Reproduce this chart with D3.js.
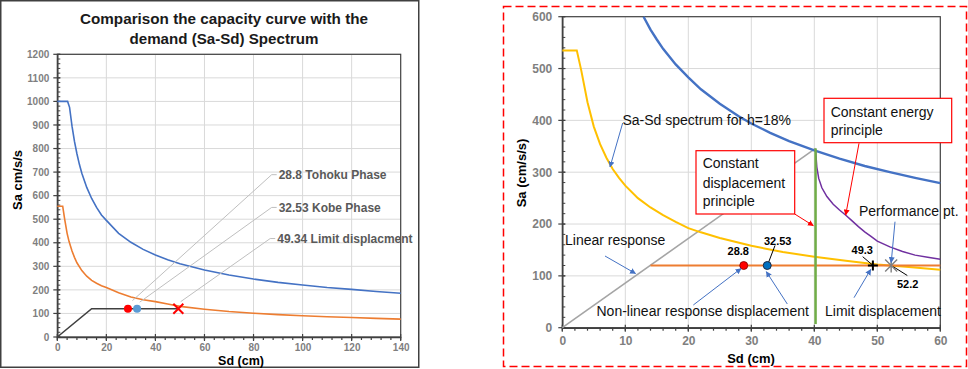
<!DOCTYPE html>
<html><head><meta charset="utf-8">
<script src="https://cdn.jsdelivr.net/npm/d3@7/dist/d3.min.js"></script>
<style>
html,body{margin:0;padding:0;background:#fff;}
svg{display:block;font-family:"Liberation Sans",Arial,sans-serif;}
</style></head>
<body><svg id="c" width="968" height="369"></svg>
<script>
// ---------- LEFT CHART DATA ----------
const leftTitle = ["Comparison the capacity curve with the", "demand (Sa-Sd) Spectrum"];
const leftXTicks = [0, 20, 40, 60, 80, 100, 120, 140];
const leftYTicks = [0, 100, 200, 300, 400, 500, 600, 700, 800, 900, 1000, 1100, 1200];
const leftBlueSd = [0, 4.2, 5, 6, 7, 8, 9, 10, 12, 14, 16, 18, 20, 25, 30, 35, 40, 45, 50, 60, 70, 80, 90, 100, 110, 120, 130, 140];
const leftBlueSa = [1000, 1000, 975, 895, 830, 778, 733, 695, 635, 588, 550, 518, 495, 440, 402, 372, 348, 328, 311, 284, 263, 246, 232, 221, 210, 202, 193, 186];
const leftOrangeSd = [0, 2.2, 3, 4, 4.8, 6, 7, 8, 10, 12, 14, 16, 18, 20, 25, 30, 35, 40, 45, 50, 60, 70, 80, 90, 100, 110, 120, 130, 140];
const leftOrangeSa = [555, 555, 500, 440, 405, 365, 338, 315, 282, 258, 240, 228, 218, 210, 188, 170, 158, 150, 140, 130, 118, 108, 101, 95, 90, 86, 83, 79, 76];
const leftCapSd = [0, 14, 49.34];
const leftCapSa = [0, 120, 120];
const leftPtSd = [28.8, 32.53, 49.34];
const leftPtSa = [120, 120, 120];
const leftPtLabels = ["28.8 Tohoku Phase", "32.53 Kobe Phase", "49.34 Limit displacment"];

// ---------- RIGHT CHART DATA ----------
const rightXTicks = [0, 10, 20, 30, 40, 50, 60];
const rightYTicks = [0, 100, 200, 300, 400, 500, 600];
const rightBlueSd = [12.9, 14, 15, 16, 18, 20, 22, 25, 28, 30, 33, 36, 40, 44, 48, 52, 56, 60];
const rightBlueSa = [600, 575, 556, 538, 508, 483, 460, 432, 408, 394, 376, 360, 342, 326, 312, 300, 289, 279];
const rightYellowSd = [0, 2.3, 3, 4, 5, 6, 7, 8, 9, 10, 12, 14, 16, 18, 20, 22, 25, 30, 35, 40, 45, 50, 55, 60];
const rightYellowSa = [535, 535, 497, 435, 388, 354, 328, 306, 289, 274, 250, 232, 217, 204, 192, 184, 173, 158, 146, 137, 129, 122, 117, 112];
const rightCapSd = [14, 60];
const rightCapSa = [120, 120];
const rightLinearSd = [0, 40.2];
const rightLinearSa = [0, 346];
const rightGreenSd = [40.2, 40.2];
const rightGreenSa = [7, 346];
const rightPurpleSd = [40.2, 40.4, 40.7, 41.2, 42, 43, 44, 45, 46, 47, 48, 49, 50, 52, 54, 56, 58, 60];
const rightPurpleSa = [343, 310, 288, 270, 253, 238, 227, 217, 206, 195, 185, 176, 167, 156, 147, 140, 136, 132];
const rightPtSd = [28.8, 32.53, 49.3, 52.2];
const rightPtSa = [120, 120, 120, 120];
const rightPtLabels = ["28.8", "32.53", "49.3", "52.2"];

const svg = d3.select("#c");
const zip = (a, b) => a.map((v, i) => [v, b[i]]);

// markers
const defs = svg.append("defs");
function arrowMarker(id, color, size) {
  defs.append("marker").attr("id", id).attr("viewBox", "0 0 10 10").attr("refX", 9).attr("refY", 5)
    .attr("markerWidth", size).attr("markerHeight", size).attr("orient", "auto")
    .append("path").attr("d", "M0,0 L10,5 L0,10 z").attr("fill", color);
}
arrowMarker("ab", "#4472c4", 6);
arrowMarker("ar", "#ff0000", 6);

// ====================== LEFT CHART ======================
svg.append("rect").attr("x", 0.75).attr("y", 0.75).attr("width", 418).attr("height", 366.5)
  .attr("fill", "none").attr("stroke", "#404040").attr("stroke-width", 1.5);

const lx = d3.scaleLinear().domain([0, 140]).range([57.3, 400.7]);
const ly = d3.scaleLinear().domain([0, 1200]).range([337, 54.3]);
const L = svg.append("g");

L.append("text").attr("x", 224).attr("y", 23.5).attr("text-anchor", "middle")
  .attr("font-weight", "bold").attr("font-size", 15.5).attr("fill", "#1a1a1a")
  .attr("textLength", 288).attr("lengthAdjust", "spacingAndGlyphs").text(leftTitle[0]);
L.append("text").attr("x", 224).attr("y", 44).attr("text-anchor", "middle")
  .attr("font-weight", "bold").attr("font-size", 15.5).attr("fill", "#1a1a1a")
  .attr("textLength", 189).attr("lengthAdjust", "spacingAndGlyphs").text(leftTitle[1]);

// grid
L.append("g").selectAll("line").data(leftXTicks.slice(1, -1)).join("line")
  .attr("x1", d => lx(d)).attr("x2", d => lx(d)).attr("y1", ly(0)).attr("y2", ly(1200))
  .attr("stroke", "#d9d9d9").attr("stroke-width", 1);
L.append("g").selectAll("line").data(leftYTicks.slice(1)).join("line")
  .attr("x1", lx(0)).attr("x2", lx(140)).attr("y1", d => ly(d)).attr("y2", d => ly(d))
  .attr("stroke", "#d9d9d9").attr("stroke-width", 1);
// frame
L.append("rect").attr("x", lx(0)).attr("y", ly(1200)).attr("width", lx(140) - lx(0)).attr("height", ly(0) - ly(1200))
  .attr("fill", "none").attr("stroke", "#404040").attr("stroke-width", 1.2);

// axes
const lxAxis = L.append("g").attr("transform", `translate(0,${ly(0)})`)
  .call(d3.axisBottom(lx).tickValues(leftXTicks).tickFormat(d3.format("d")).tickSize(0).tickPadding(7));
const lyAxis = L.append("g").attr("transform", `translate(${lx(0)},0)`)
  .call(d3.axisLeft(ly).tickValues(leftYTicks).tickFormat(d3.format("d")).tickSize(0).tickPadding(8));
[lxAxis, lyAxis].forEach(a => {
  a.select(".domain").attr("stroke", "#404040").attr("stroke-width", 1.5);
  a.selectAll("text").attr("font-size", 10).attr("font-weight", "bold").attr("fill", "#7f7f7f")
    .attr("font-family", "Liberation Sans, Arial, sans-serif");
});
// major and minor ticks
L.append("g").selectAll("line").data(d3.range(0, 141, 4)).join("line")
  .attr("x1", d => lx(d)).attr("x2", d => lx(d)).attr("y1", ly(0)).attr("y2", ly(0) + 3)
  .attr("stroke", "#404040").attr("stroke-width", 1.2);
L.append("g").selectAll("line").data(leftXTicks).join("line")
  .attr("x1", d => lx(d)).attr("x2", d => lx(d)).attr("y1", ly(0) - 3).attr("y2", ly(0) + 4)
  .attr("stroke", "#404040").attr("stroke-width", 1.2);
L.append("g").selectAll("line").data(d3.range(0, 1201, 20)).join("line")
  .attr("x1", lx(0)).attr("x2", lx(0) + 3).attr("y1", d => ly(d)).attr("y2", d => ly(d))
  .attr("stroke", "#404040").attr("stroke-width", 1);
L.append("g").selectAll("line").data(leftYTicks).join("line")
  .attr("x1", lx(0) - 4).attr("x2", lx(0) + 3).attr("y1", d => ly(d)).attr("y2", d => ly(d))
  .attr("stroke", "#404040").attr("stroke-width", 1.2);

L.append("text").attr("transform", `translate(21.5,180) rotate(-90)`).attr("text-anchor", "middle")
  .attr("font-weight", "bold").attr("font-size", 13).attr("fill", "#000").text("Sa cm/s/s");
L.append("text").attr("x", 241).attr("y", 365).attr("text-anchor", "middle")
  .attr("font-weight", "bold").attr("font-size", 12.5).attr("fill", "#000").text("Sd (cm)");

const lline = d3.line().x(d => lx(d[0])).y(d => ly(d[1]));
L.append("path").attr("d", lline(zip(leftBlueSd, leftBlueSa))).attr("fill", "none").attr("stroke", "#4472c4").attr("stroke-width", 1.6);
L.append("path").attr("d", lline(zip(leftOrangeSd, leftOrangeSa))).attr("fill", "none").attr("stroke", "#ed7d31").attr("stroke-width", 1.6);
L.append("path").attr("d", lline(zip(leftCapSd, leftCapSa))).attr("fill", "none").attr("stroke", "#404040").attr("stroke-width", 1.6);

// leader lines
const leftLabelAnchor = [[87.4, 689], [87.4, 550], [86.8, 418]];
const leftLeaderEnd = [[30.6, 154], [33.6, 148], [50.3, 150]];
leftPtLabels.forEach((t, i) => {
  const ax = lx(leftLabelAnchor[i][0]), ay = ly(leftLabelAnchor[i][1]);
  L.append("polyline").attr("points", `${lx(leftLeaderEnd[i][0])},${ly(leftLeaderEnd[i][1])} ${ax},${ay} ${ax + 5},${ay}`)
    .attr("fill", "none").attr("stroke", "#bfbfbf").attr("stroke-width", 1);
  L.append("text").attr("x", ax + 7).attr("y", ay + 4.5).attr("font-size", 12).attr("font-weight", "bold")
    .attr("fill", "#595959").text(t);
});
// points
L.append("circle").attr("cx", lx(leftPtSd[0])).attr("cy", ly(leftPtSa[0])).attr("r", 4).attr("fill", "#ff0000");
L.append("circle").attr("cx", lx(leftPtSd[1])).attr("cy", ly(leftPtSa[1])).attr("r", 4).attr("fill", "#5b9bd5");
{
  const cx = lx(leftPtSd[2]), cy = ly(leftPtSa[2]), s = 5;
  L.append("path").attr("d", `M${cx - s},${cy - s}L${cx + s},${cy + s}M${cx - s},${cy + s}L${cx + s},${cy - s}`)
    .attr("stroke", "#ff0000").attr("stroke-width", 2).attr("fill", "none");
}

// ====================== RIGHT CHART ======================
svg.append("rect").attr("x", 503.5).attr("y", 6.5).attr("width", 463).attr("height", 360)
  .attr("fill", "none").attr("stroke", "#ff0000").attr("stroke-width", 1.5).attr("stroke-dasharray", "8,4");

const rx = d3.scaleLinear().domain([0, 60]).range([562.3, 940.3]);
const ry = d3.scaleLinear().domain([0, 600]).range([327.7, 16.7]);
const R = svg.append("g");

R.append("g").selectAll("line").data(rightXTicks.slice(1, -1)).join("line")
  .attr("x1", d => rx(d)).attr("x2", d => rx(d)).attr("y1", ry(0)).attr("y2", ry(600))
  .attr("stroke", "#d9d9d9").attr("stroke-width", 1);
R.append("g").selectAll("line").data(rightYTicks.slice(1, -1)).join("line")
  .attr("x1", rx(0)).attr("x2", rx(60)).attr("y1", d => ry(d)).attr("y2", d => ry(d))
  .attr("stroke", "#d9d9d9").attr("stroke-width", 1);
R.append("rect").attr("x", rx(0)).attr("y", ry(600)).attr("width", rx(60) - rx(0)).attr("height", ry(0) - ry(600))
  .attr("fill", "none").attr("stroke", "#404040").attr("stroke-width", 1.2);

const rxAxis = R.append("g").attr("transform", `translate(0,${ry(0)})`)
  .call(d3.axisBottom(rx).tickValues(rightXTicks).tickFormat(d3.format("d")).tickSize(0).tickPadding(9));
const ryAxis = R.append("g").attr("transform", `translate(${rx(0)},0)`)
  .call(d3.axisLeft(ry).tickValues(rightYTicks).tickFormat(d3.format("d")).tickSize(0).tickPadding(10));
[rxAxis, ryAxis].forEach(a => {
  a.select(".domain").attr("stroke", "#404040").attr("stroke-width", 1.5);
  a.selectAll("text").attr("font-size", 12).attr("font-weight", "bold").attr("fill", "#7f7f7f")
    .attr("font-family", "Liberation Sans, Arial, sans-serif");
});
R.append("g").selectAll("line").data(d3.range(0, 61, 2)).join("line")
  .attr("x1", d => rx(d)).attr("x2", d => rx(d)).attr("y1", ry(0)).attr("y2", ry(0) + 3)
  .attr("stroke", "#404040").attr("stroke-width", 1.2);
R.append("g").selectAll("line").data(rightXTicks).join("line")
  .attr("x1", d => rx(d)).attr("x2", d => rx(d)).attr("y1", ry(0) - 3).attr("y2", ry(0) + 4)
  .attr("stroke", "#404040").attr("stroke-width", 1.2);
R.append("g").selectAll("line").data(d3.range(0, 601, 20)).join("line")
  .attr("x1", rx(0)).attr("x2", rx(0) + 3).attr("y1", d => ry(d)).attr("y2", d => ry(d))
  .attr("stroke", "#404040").attr("stroke-width", 1);
R.append("g").selectAll("line").data(rightYTicks).join("line")
  .attr("x1", rx(0) - 4).attr("x2", rx(0) + 3).attr("y1", d => ry(d)).attr("y2", d => ry(d))
  .attr("stroke", "#404040").attr("stroke-width", 1.2);

R.append("text").attr("transform", `translate(526,173) rotate(-90)`).attr("text-anchor", "middle")
  .attr("font-weight", "bold").attr("font-size", 13).attr("fill", "#000").text("Sa (cm/s/s)");
R.append("text").attr("x", 751).attr("y", 363).attr("text-anchor", "middle")
  .attr("font-weight", "bold").attr("font-size", 13).attr("fill", "#000").text("Sd (cm)");

const rline = d3.line().x(d => rx(d[0])).y(d => ry(d[1]));
R.append("path").attr("d", rline(zip(rightLinearSd, rightLinearSa))).attr("fill", "none").attr("stroke", "#a5a5a5").attr("stroke-width", 1.6);
R.append("path").attr("d", rline(zip(rightYellowSd, rightYellowSa))).attr("fill", "none").attr("stroke", "#ffc000").attr("stroke-width", 2);
R.append("path").attr("d", rline(zip(rightBlueSd, rightBlueSa))).attr("fill", "none").attr("stroke", "#4472c4").attr("stroke-width", 2.4);
R.append("path").attr("d", rline(zip(rightPurpleSd, rightPurpleSa))).attr("fill", "none").attr("stroke", "#7030a0").attr("stroke-width", 1.5);
R.append("path").attr("d", rline(zip(rightCapSd, rightCapSa))).attr("fill", "none").attr("stroke", "#ed7d31").attr("stroke-width", 2);
R.append("path").attr("d", rline(zip(rightGreenSd, rightGreenSa))).attr("fill", "none").attr("stroke", "#70ad47").attr("stroke-width", 2.5);

// point leader lines + labels
const labelPos = [[738.3, 254.5], [777.7, 245], [862.3, 253.5], [907.7, 287.5]];
const leaderSeg = [null, [[775, 245.5], [768.3, 263]], [[862.7, 256.7], [872.5, 265]], [[893.3, 266.7], [907.3, 275.5]]];
leaderSeg.forEach(s => {
  if (!s) return;
  R.append("line").attr("x1", s[0][0]).attr("y1", s[0][1]).attr("x2", s[1][0]).attr("y2", s[1][1])
    .attr("stroke", "#000").attr("stroke-width", 1);
});
rightPtLabels.forEach((t, i) => {
  R.append("text").attr("x", labelPos[i][0]).attr("y", labelPos[i][1]).attr("text-anchor", "middle")
    .attr("font-size", 11).attr("font-weight", "bold").attr("fill", "#000").text(t);
});
// markers
R.append("circle").attr("cx", rx(rightPtSd[0])).attr("cy", ry(rightPtSa[0])).attr("r", 4)
  .attr("fill", "#ff0000").attr("stroke", "#7f0000").attr("stroke-width", 0.8);
R.append("circle").attr("cx", rx(rightPtSd[1])).attr("cy", ry(rightPtSa[1])).attr("r", 4)
  .attr("fill", "#0070c0").attr("stroke", "#1f2a44").attr("stroke-width", 1);
{
  const cx = rx(rightPtSd[2]), cy = ry(rightPtSa[2]), s = 5;
  R.append("path").attr("d", `M${cx - s},${cy}L${cx + s},${cy}M${cx},${cy - s}L${cx},${cy + s}`)
    .attr("stroke", "#000").attr("stroke-width", 2);
}
{
  const cx = rx(rightPtSd[3]), cy = ry(rightPtSa[3]), s = 6;
  R.append("path").attr("d", `M${cx - s},${cy - s}L${cx + s},${cy + s}M${cx - s},${cy + s}L${cx + s},${cy - s}M${cx},${cy - s - 1}L${cx},${cy + s + 1}`)
    .attr("stroke", "#7f7f7f").attr("stroke-width", 1.4);
}

// annotations
function ann(x, y, t) {
  R.append("text").attr("x", x).attr("y", y).attr("font-size", 14).attr("fill", "#111").text(t);
}
function arrow(x1, y1, x2, y2, m, c) {
  R.append("line").attr("x1", x1).attr("y1", y1).attr("x2", x2).attr("y2", y2)
    .attr("stroke", c).attr("stroke-width", 1).attr("marker-end", `url(#${m})`);
}
ann(622.5, 125, "Sa-Sd spectrum for h=18%");
arrow(622.7, 123, 610, 167, "ab", "#4472c4");
ann(565, 245, "Linear response");
arrow(605, 256, 635.5, 273.5, "ab", "#4472c4");
ann(596.5, 316, "Non-linear response displacement");
arrow(693.3, 305, 741, 268.5, "ab", "#4472c4");
arrow(787.3, 304, 766.3, 271.7, "ab", "#4472c4");
ann(825, 316, "Limit displacement");
arrow(854, 297.7, 870.7, 269.5, "ab", "#4472c4");
ann(859, 216, "Performance pt.");
arrow(895, 221.7, 891.2, 262.5, "ab", "#4472c4");

// red boxes
R.append("rect").attr("x", 696).attr("y", 150.7).attr("width", 98.7).attr("height", 63.3)
  .attr("fill", "#fff").attr("stroke", "#ff0000").attr("stroke-width", 1.2);
ann(702.7, 168.3, "Constant");
ann(702.7, 187.5, "displacement");
ann(702.7, 206, "principle");
R.append("polyline").attr("points", "794.7,214 813.3,225.7").attr("fill", "none")
  .attr("stroke", "#ff0000").attr("stroke-width", 1).attr("marker-end", "url(#ar)");

R.append("rect").attr("x", 824).attr("y", 98.3).attr("width", 127.7).attr("height", 44.4)
  .attr("fill", "#fff").attr("stroke", "#ff0000").attr("stroke-width", 1.2);
ann(830.7, 116.5, "Constant energy");
ann(830.7, 135, "principle");
arrow(859, 143.3, 845.7, 215, "ar", "#ff0000");
</script></body></html>
